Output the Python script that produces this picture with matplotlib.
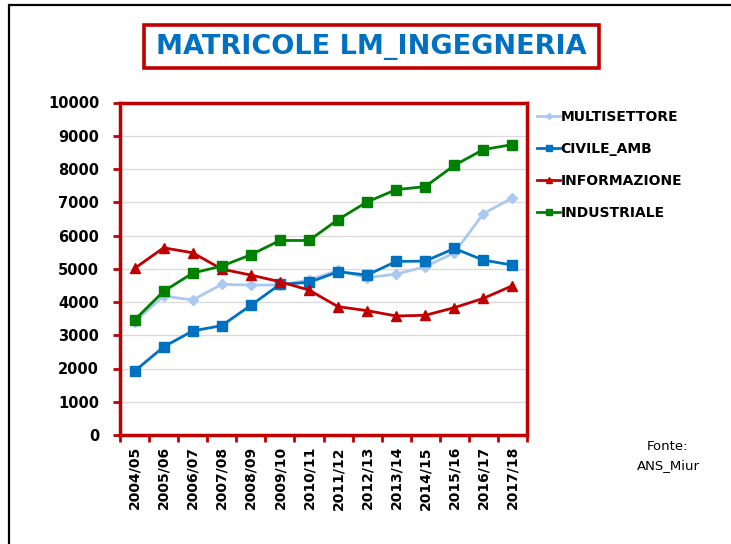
import matplotlib
matplotlib.use('Agg')
import matplotlib.pyplot as plt
from matplotlib.patches import Rectangle

# academic years on the x axis
years = ['2004/05', '2005/06', '2006/07', '2007/08', '2008/09', '2009/10', '2010/11',
         '2011/12', '2012/13', '2013/14', '2014/15', '2015/16', '2016/17', '2017/18']

multisettore = [3400, 4180, 4060, 4530, 4510, 4510, 4660, 4950, 4730, 4840, 5060, 5480, 6660, 7130]
civile_amb = [1920, 2650, 3130, 3290, 3900, 4530, 4590, 4910, 4810, 5220, 5230, 5610, 5260, 5110]
informazione = [5010, 5630, 5480, 4990, 4810, 4610, 4360, 3860, 3740, 3580, 3600, 3830, 4110, 4490]
industriale = [3460, 4320, 4870, 5080, 5420, 5850, 5850, 6480, 7010, 7380, 7470, 8110, 8585, 8735]

y_ticks = list(range(0, 10001, 1000))

RED = '#C00000'

fig = plt.figure(figsize=(7.31, 5.44), dpi=100)

# slide frame
fig.patches.append(Rectangle((9 / 731, -0.1), 1.2, 1 - 5 / 544 + 0.1, transform=fig.transFigure,
                             fill=False, edgecolor='black', linewidth=1.6))

# title box
fig.patches.append(Rectangle((144 / 731, 1 - 68 / 544), 455 / 731, 43 / 544, transform=fig.transFigure,
                             fill=False, edgecolor=RED, linewidth=2.6))
fig.text(371 / 731, 1 - 47 / 544, 'MATRICOLE LM_INGEGNERIA', ha='center', va='center',
         fontsize=19.5, fontweight='bold', color='#0070C0')

ax = fig.add_axes([120 / 731, 1 - 435 / 544, 407 / 731, 332.5 / 544])
x = list(range(len(years)))

ax.plot(x, multisettore, color='#A9C8F2', marker='D', markersize=5, linewidth=2, label='MULTISETTORE')
ax.plot(x, civile_amb, color='#0070C0', marker='s', markersize=7.5, linewidth=2, label='CIVILE_AMB')
ax.plot(x, informazione, color=RED, marker='^', markersize=7.5, linewidth=2, label='INFORMAZIONE')
ax.plot(x, industriale, color='#008000', marker='s', markersize=7.5, linewidth=2, label='INDUSTRIALE')

ax.set_xlim(-0.5, len(years) - 0.5)
ax.set_ylim(0, 10000)
ax.set_yticks(y_ticks)
ax.set_yticklabels([str(v) for v in y_ticks], fontsize=10.5, fontweight='bold')
ax.yaxis.grid(True, color='#D9D9D9', linewidth=0.9)
ax.set_axisbelow(True)

# ticks at category boundaries, labels at centers
ax.set_xticks([i - 0.5 for i in range(len(years) + 1)])
ax.set_xticklabels([])
ax.set_xticks(x, minor=True)
ax.set_xticklabels(years, minor=True, rotation=90, fontsize=10, fontweight='bold')
ax.tick_params(axis='x', which='minor', length=0, pad=8)
ax.tick_params(axis='both', which='major', color=RED, width=2, length=5)
ax.tick_params(axis='y', pad=10)

for sp in ax.spines.values():
    sp.set_color(RED)
    sp.set_linewidth(2.5)

leg = ax.legend(loc='upper left', bbox_to_anchor=(0.995, 1.015), frameon=False, handlelength=1.6,
                handletextpad=0.05, labelspacing=1.3, prop={'weight': 'bold', 'size': 10},
                markerscale=0.6)

fig.text(668 / 731, 1 - 447 / 544, 'Fonte:', ha='center', va='center', fontsize=9.5)
fig.text(668 / 731, 1 - 466 / 544, 'ANS_Miur', ha='center', va='center', fontsize=9.5)

fig.savefig('out.png', dpi=100)
